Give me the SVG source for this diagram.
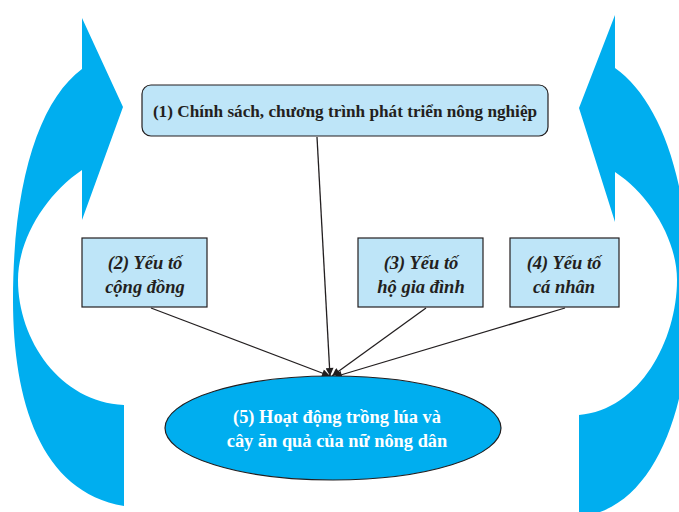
<svg xmlns="http://www.w3.org/2000/svg" width="679" height="512" viewBox="0 0 679 512">
<style>
.bigarrow{fill:#00aeef;stroke:none}
.box{fill:#bee5f8;stroke:#231f20;stroke-width:1.2}
.t1{font-family:"Liberation Serif",serif;font-weight:bold;font-size:17.2px;fill:#231f20;text-anchor:middle}
.ti{font-family:"Liberation Serif",serif;font-weight:bold;font-style:italic;font-size:18.5px;fill:#231f20;text-anchor:middle}
.t5{font-family:"Liberation Serif",serif;font-weight:bold;font-size:18.4px;fill:#ffffff;text-anchor:middle}
.conn{stroke:#231f20;stroke-width:1.3;fill:none;marker-end:url(#ah)}
</style>
<defs>
<marker id="ah" viewBox="0 0 10 10" refX="10" refY="5" markerWidth="10" markerHeight="8" markerUnits="userSpaceOnUse" orient="auto">
<path d="M0,0 L10,5 L0,10 Z" fill="#231f20"/>
</marker>
</defs>
<rect width="679" height="512" fill="#ffffff"/>
<g id="arrow-left">
<path class="bigarrow" d="M82,69 L82,18 L123,107 L82,220 L82,170 C45,195 18,240 18,280 C18,340 60,402 124,405 L124,506 C40,492 13,400 13,300 C13,180 40,100 82,69 Z"/>
</g>
<g id="arrow-right">
<path class="bigarrow" d="M615,68 L615,15 L579,108 L615,222 L615,172 C650,195 677,240 677,280 C677,340 640,410 579,415 L579,512 L600,512 C660,490 690,400 690,300 C690,180 660,100 615,68 Z"/>
</g>
<g id="connectors">
<line class="conn" x1="317" y1="137" x2="330" y2="376"/>
<line class="conn" x1="151" y1="308" x2="330" y2="376"/>
<line class="conn" x1="426" y1="308" x2="332" y2="376"/>
<line class="conn" x1="565" y1="308" x2="334" y2="377"/>
</g>
<g id="node1">
<rect class="box" x="142" y="85" width="406" height="51" rx="9"/>
<text class="t1" x="345" y="117">(1) Chính sách, chương trình phát triển nông nghiệp</text>
</g>
<g id="node2">
<rect class="box" x="82" y="238" width="125" height="69"/>
<text class="ti" x="145" y="269">(2) Yếu tố</text>
<text class="ti" x="145" y="293">cộng đồng</text>
</g>
<g id="node3">
<rect class="box" x="358" y="238" width="125" height="69"/>
<text class="ti" x="421" y="269">(3) Yếu tố</text>
<text class="ti" x="421" y="293">hộ gia đình</text>
</g>
<g id="node4">
<rect class="box" x="510" y="238" width="109" height="69"/>
<text class="ti" x="564" y="269">(4) Yếu tố</text>
<text class="ti" x="564" y="293">cá nhân</text>
</g>
<g id="node5">
<ellipse cx="333" cy="428" rx="168" ry="52" fill="#00aeef" stroke="#231f20" stroke-width="1.2"/>
<text class="t5" x="337" y="423">(5) Hoạt động trồng lúa và</text>
<text class="t5" x="337" y="447">cây ăn quả của nữ nông dân</text>
</g>
</svg>
